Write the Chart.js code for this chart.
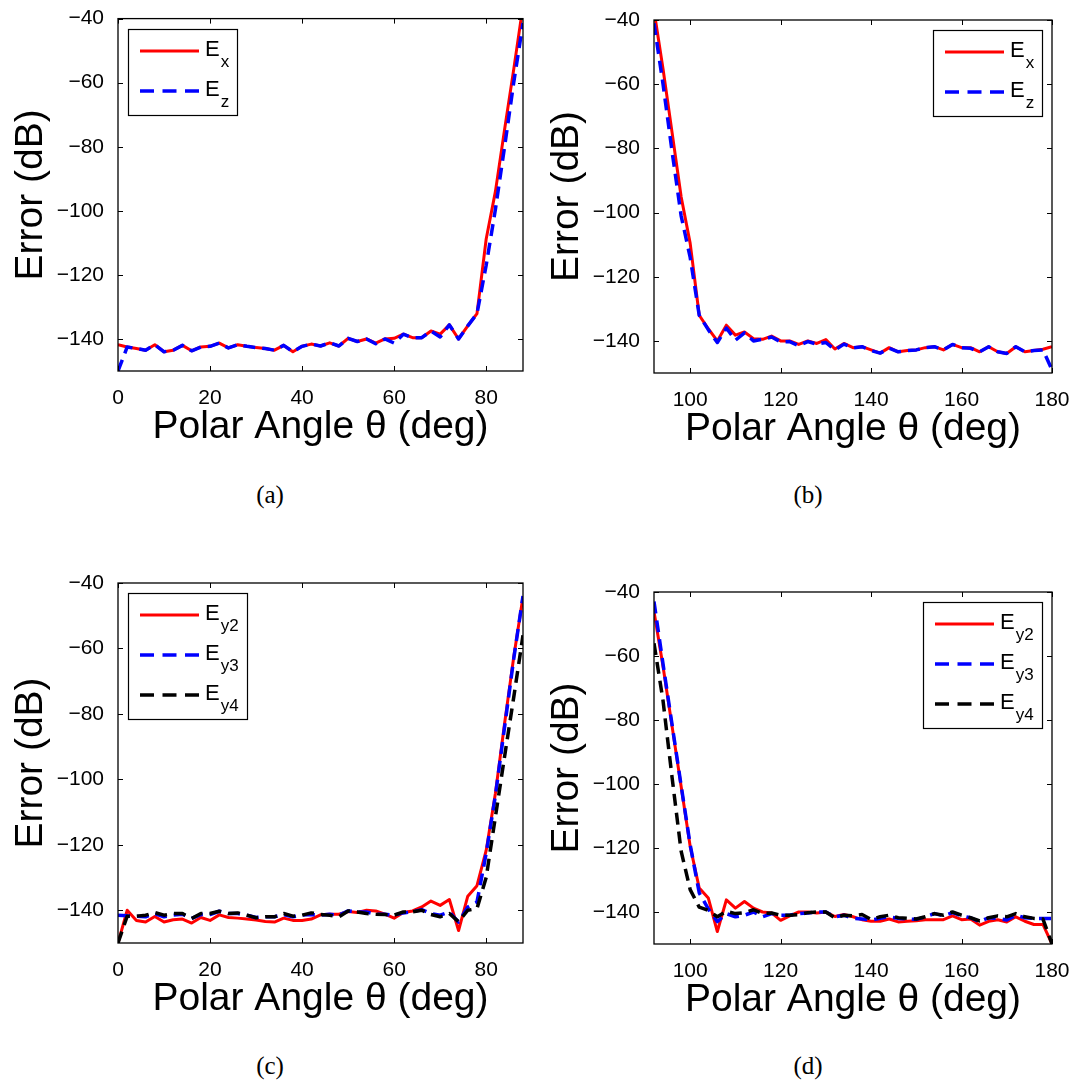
<!doctype html>
<html><head><meta charset="utf-8"><title>Error vs polar angle</title>
<style>
  html, body { margin: 0; padding: 0; background: #fff; }
  body { width: 1077px; height: 1086px; position: relative; overflow: hidden; }
  canvas { position: absolute; }
  .cap { position: absolute; width: 80px; margin-left: -40px; margin-top: -13px; text-align: center;
         font: 25px "Liberation Serif", "DejaVu Serif", serif; color: #000; line-height: 26px; }
</style>
</head>
<body>
<canvas id="ca"></canvas>
<canvas id="cb"></canvas>
<canvas id="cc"></canvas>
<canvas id="cd"></canvas>
<div class="cap" style="left:270px;top:495px">(a)</div>
<div class="cap" style="left:808px;top:495px">(b)</div>
<div class="cap" style="left:270px;top:1066px">(c)</div>
<div class="cap" style="left:808px;top:1066px">(d)</div>
<script src="https://cdn.jsdelivr.net/npm/chart.js@4"></script>
<script>
// polar angle samples (deg)
const thetaFront = [0, 2, 4, 6, 8, 10, 12, 14, 16, 18, 20, 22, 24, 26, 28, 30, 32, 34, 36, 38, 40, 42,
  44, 46, 48, 50, 52, 54, 56, 58, 60, 62, 64, 66, 68, 70, 72, 74, 76, 78, 80, 82, 84, 86, 88]
const thetaBack = [92, 94, 96, 98, 100, 102, 104, 106, 108, 110, 112, 114, 116, 118, 120, 122, 124, 126,
  128, 130, 132, 134, 136, 138, 140, 142, 144, 146, 148, 150, 152, 154, 156, 158, 160, 162, 164, 166,
  168, 170, 172, 174, 176, 178, 180]

// tick labels
const xTicksFront = [0, 20, 40, 60, 80]
const xTicksBack = [100, 120, 140, 160, 180]
const yTicks = [-140, -120, -100, -80, -60, -40]

// (a) 0..88 deg
const exFront = [-141.8, -142.5, -143, -143.5, -141.8, -144, -143.5, -142, -143.7, -142.5,
  -142.3, -141.3, -142.8, -141.8, -142.3, -142.7, -143, -143.5, -142, -144,
  -142.3, -141.6, -142.2, -141.2, -142.2, -139.8, -140.8, -140, -141.3, -140,
  -139.8, -138.5, -139.6, -139.6, -137.5, -138.5, -135.6, -140, -135.9, -132.1,
  -108.8, -94, -74.6, -55.7, -36]
const ezFront = [-150, -142.5, -143, -143.5, -141.8, -144, -143.5, -142, -143.7, -142.5,
  -142.3, -141.3, -142.8, -141.8, -142.3, -142.7, -143, -143.5, -142, -144,
  -142.3, -141.6, -142.2, -141.2, -142.2, -139.8, -140.8, -140, -141.5, -140,
  -141.3, -138.5, -139.6, -139.6, -137.5, -139.4, -135.6, -140, -135.9, -132.1,
  -117, -99.6, -80, -59.8, -41.4]

// (b) 92..180 deg
const exBack = [-37, -55.3, -75.1, -95.1, -109.6, -132, -136.2, -140, -135.1, -138.2,
  -137.2, -139.3, -139.5, -138.5, -140, -140, -141.1, -140, -140.8, -139.6,
  -142.5, -140.8, -142.1, -141.8, -142.8, -143.8, -142.1, -143.4, -143, -142.8,
  -142.1, -141.8, -142.8, -141.1, -142.1, -142.1, -143.4, -141.8, -143.4, -143.9,
  -141.8, -143.4, -143, -142.6, -141.8]
const ezBack = [-41, -60, -81, -101, -114, -132, -136.5, -140.5, -136, -139.8,
  -137.5, -140, -139.5, -138.8, -140.3, -140.2, -141.5, -140.2, -141, -140.5,
  -142.8, -141, -142.2, -141.8, -143, -143.8, -142.3, -143.4, -143, -142.8,
  -142.1, -141.8, -142.8, -141.1, -142.1, -142.3, -143.4, -141.8, -143.4, -143.9,
  -141.8, -143.4, -143, -142.8, -149]

// (c) 0..88 deg
const ey2Front = [-150, -140, -143.1, -143.6, -141.9, -143.6, -142.9, -142.7, -143.9, -142.2,
  -143.1, -141.4, -142.2, -142.4, -142.7, -143, -143.4, -143.6, -142.4, -143.1,
  -143.1, -142.7, -141.4, -141.2, -141.2, -140.4, -140.7, -140, -140.2, -141.2,
  -142.4, -140.7, -140.2, -139, -137.2, -138.5, -136.7, -146.2, -135.7, -132.5,
  -121.7, -104.3, -82.9, -62.5, -44.2]
const ey3Front = [-141.5, -141.7, -141.8, -142, -141, -142, -141.5, -141.2, -142.5, -141.3,
  -141.3, -140.3, -141, -141, -141.5, -142.2, -142, -142, -141.3, -142,
  -141.5, -141.3, -141.5, -141.2, -141.5, -140.2, -140.5, -140.5, -141.2, -141.2,
  -141.5, -140.8, -140.5, -139.8, -141, -141.5, -140.5, -143.6, -139, -137.5,
  -122.6, -105, -84, -63, -44]
const ey4Front = [-150, -141.8, -141.8, -141.5, -140.7, -141.5, -141, -141, -142.5, -141,
  -141, -140.3, -141, -140.8, -141.5, -142.3, -142, -142, -141, -141.8,
  -141.5, -140.8, -141.3, -141.5, -142, -140.2, -140.5, -141, -141.2, -141.3,
  -141.5, -140.5, -140.5, -140, -141.3, -142, -141, -143.5, -140, -139.5,
  -130, -111.5, -93, -74.8, -56]

// (d) 92..180 deg
const ey2Back = [-46.1, -63.3, -82, -100.8, -119.5, -132.5, -135.6, -146.1, -136.2, -138.8,
  -136.7, -138.8, -140, -140.3, -142.6, -141.2, -140, -140, -140.3, -140,
  -141.4, -140.8, -141.5, -142.4, -142.9, -142.9, -142.2, -143.1, -142.9, -142.7,
  -142.4, -142.4, -142.4, -141.2, -142.4, -142.2, -144.1, -142.9, -142.4, -143.1,
  -141.5, -142.9, -143.9, -143.9, -150]
const ey3Back = [-43, -62.5, -81.5, -100.5, -119, -134, -139, -143, -140.5, -141.5,
  -141, -140, -141.5, -140.5, -141, -141, -140.5, -140.3, -140, -140,
  -141.5, -141, -142, -142.2, -142.5, -142, -141.5, -142, -142.2, -142.3,
  -141.5, -140.5, -141.2, -140.2, -141.2, -141.8, -143, -141.8, -142, -142.5,
  -141, -141.8, -142, -142, -142]
const ey4Back = [-56, -74, -98, -121, -133, -138.5, -139.5, -141.5, -139.8, -140.5,
  -140.2, -139.3, -140.5, -140.3, -141, -141, -140.8, -140.2, -140, -140,
  -141.8, -141, -141.2, -140.8, -142.3, -141.5, -141, -141.8, -142, -142.2,
  -141.5, -140.5, -141, -140, -141, -141.8, -142.8, -141.8, -141.2, -141.5,
  -140.5, -141.5, -142, -142.2, -150]

const FONT = '"Liberation Sans", Arial, Helvetica, sans-serif'
const RED = '#ff0000', BLUE = '#0000ff', BLACK = '#000000'
const TITLE_SIZE = 39
const TITLE_LH = TITLE_SIZE * 1.2

function minusLabel(v) { return v < 0 ? '\u2212' + Math.abs(v) : String(v) }

// order: higher = drawn first (below)
function series(xs, ys, label, color, dashed, order) {
  return {
    label,
    data: xs.map((x, i) => ({ x, y: ys[i] })),
    borderColor: color,
    borderWidth: dashed ? 3.5 : 3,
    borderDash: dashed ? [12, 7] : [],
    pointRadius: 0,
    tension: 0,
    clip: 0,
    order,
    borderJoinStyle: 'round',
    fill: false
  }
}

// matlab style box + inward ticks
const matlabFrame = {
  id: 'matlabFrame',
  afterDatasetsDraw(chart) {
    const { ctx, chartArea: a, scales: { x, y } } = chart
    ctx.save()
    ctx.strokeStyle = '#000'
    ctx.lineWidth = 1.3
    ctx.setLineDash([])
    ctx.strokeRect(a.left, a.top, a.right - a.left, a.bottom - a.top)
    ctx.lineWidth = 1
    ctx.beginPath()
    x.ticks.forEach((t) => {
      const px = Math.round(x.getPixelForValue(t.value)) + 0.5
      ctx.moveTo(px, a.bottom); ctx.lineTo(px, a.bottom - 5)
      ctx.moveTo(px, a.top); ctx.lineTo(px, a.top + 5)
    })
    y.ticks.forEach((t) => {
      const py = Math.round(y.getPixelForValue(t.value)) + 0.5
      ctx.moveTo(a.left, py); ctx.lineTo(a.left + 5, py)
      ctx.moveTo(a.right, py); ctx.lineTo(a.right - 5, py)
    })
    ctx.stroke()
    ctx.restore()
  }
}

// legend with subscripts (labels like E_y2)
const matlabLegend = {
  id: 'matlabLegend',
  afterDatasetsDraw(chart, args, opts) {
    const { ctx, chartArea: a } = chart
    const sets = chart.data.datasets
    ctx.save()
    ctx.font = `22px ${FONT}`
    const mainW = ctx.measureText('E').width
    ctx.font = `17px ${FONT}`
    const subW = Math.max(...sets.map((d) => ctx.measureText(d.label.split('_')[1] || '').width))
    const w = Math.round(78 + mainW + subW + 8)
    const h = sets.length * 40 + 6
    const left = Math.round(opts.side === 'right' ? a.right - 10 - w : a.left + 10)
    const top = Math.round(a.top + 10)
    ctx.fillStyle = '#fff'
    ctx.fillRect(left, top, w, h)
    ctx.strokeStyle = '#000'
    ctx.lineWidth = 1.2
    ctx.strokeRect(left + 0.5, top + 0.5, w, h)
    sets.forEach((d, i) => {
      const ry = top + 22 + i * 40
      ctx.beginPath()
      ctx.setLineDash(d.borderDash.length ? [14, 8.5] : [])
      ctx.strokeStyle = d.borderColor
      ctx.lineWidth = d.borderWidth
      ctx.moveTo(left + 12, ry)
      ctx.lineTo(left + 71, ry)
      ctx.stroke()
      ctx.setLineDash([])
      const [base, sub] = d.label.split('_')
      ctx.fillStyle = '#000'
      ctx.textAlign = 'left'
      ctx.textBaseline = 'alphabetic'
      ctx.font = `22px ${FONT}`
      ctx.fillText(base, left + 77, ry + 5)
      if (sub) {
        ctx.font = `17px ${FONT}`
        ctx.fillText(sub, left + 78 + mainW, ry + 16)
      }
    })
    ctx.restore()
  }
}

const panels = [
  { id: 'ca', box: [0, 0, 540, 460], area: [118, 12, 523, 371], xMin: 0, xMax: 88, xTicks: xTicksFront,
    legend: 'left', yTitleX: 31,
    datasets: [series(thetaFront, exFront, 'E_x', RED, false, 2), series(thetaFront, ezFront, 'E_z', BLUE, true, 1)] },
  { id: 'cb', box: [540, 0, 537, 460], area: [654, 20, 1052, 373], xMin: 92, xMax: 180, xTicks: xTicksBack,
    legend: 'right', yTitleX: 567,
    datasets: [series(thetaBack, exBack, 'E_x', RED, false, 2), series(thetaBack, ezBack, 'E_z', BLUE, true, 1)] },
  { id: 'cc', box: [0, 560, 540, 480], area: [118, 583, 523, 943], xMin: 0, xMax: 88, xTicks: xTicksFront,
    legend: 'left', yTitleX: 31,
    datasets: [series(thetaFront, ey2Front, 'E_y2', RED, false, 3), series(thetaFront, ey3Front, 'E_y3', BLUE, true, 2),
      series(thetaFront, ey4Front, 'E_y4', BLACK, true, 1)] },
  { id: 'cd', box: [540, 560, 537, 480], area: [654, 592, 1052, 944], xMin: 92, xMax: 180, xTicks: xTicksBack,
    legend: 'right', yTitleX: 567,
    datasets: [series(thetaBack, ey2Back, 'E_y2', RED, false, 3), series(thetaBack, ey3Back, 'E_y3', BLUE, true, 2),
      series(thetaBack, ey4Back, 'E_y4', BLACK, true, 1)] }
]

function makeChart(p) {
  const [cx, cy, cw, ch] = p.box
  const [al, at, ar, ab] = p.area
  const canvas = document.getElementById(p.id)
  canvas.width = cw
  canvas.height = ch
  canvas.style.left = cx + 'px'
  canvas.style.top = cy + 'px'
  const xScaleH = cy + ch - ab
  const tickFont = { family: FONT, size: 21 }
  const titleFont = { family: FONT, size: TITLE_SIZE }
  return new Chart(canvas, {
    type: 'line',
    data: { datasets: p.datasets },
    options: {
      responsive: false,
      animation: false,
      events: [],
      layout: { padding: { left: 0, top: at - cy, right: cx + cw - ar, bottom: 0 } },
      plugins: {
        legend: { display: false },
        tooltip: { enabled: false },
        matlabLegend: { side: p.legend }
      },
      scales: {
        x: {
          type: 'linear',
          min: p.xMin,
          max: p.xMax,
          grid: { display: false },
          border: { display: false },
          afterBuildTicks: (s) => { s.ticks = p.xTicks.map((v) => ({ value: v })) },
          afterFit: (s) => { s.height = xScaleH },
          ticks: { padding: 7, color: '#000', font: tickFont, maxRotation: 0, autoSkip: false,
            callback: (v) => String(v) },
          title: { display: true, text: 'Polar Angle θ (deg)', color: '#000', font: titleFont,
            padding: { top: 0, bottom: xScaleH - 56 - TITLE_LH / 2 } }
        },
        y: {
          type: 'linear',
          min: -150,
          max: -40,
          grid: { display: false },
          border: { display: false },
          afterBuildTicks: (s) => { s.ticks = yTicks.map((v) => ({ value: v })) },
          afterFit: (s) => { s.width = al - cx },
          ticks: { padding: 6, color: '#000', font: tickFont, autoSkip: false, callback: minusLabel },
          title: { display: true, text: 'Error (dB)', color: '#000', font: titleFont,
            padding: { top: p.yTitleX - cx - TITLE_LH / 2, bottom: 0 } }
        }
      }
    },
    plugins: [matlabFrame, matlabLegend]
  })
}

panels.forEach(makeChart)
</script>
</body></html>
